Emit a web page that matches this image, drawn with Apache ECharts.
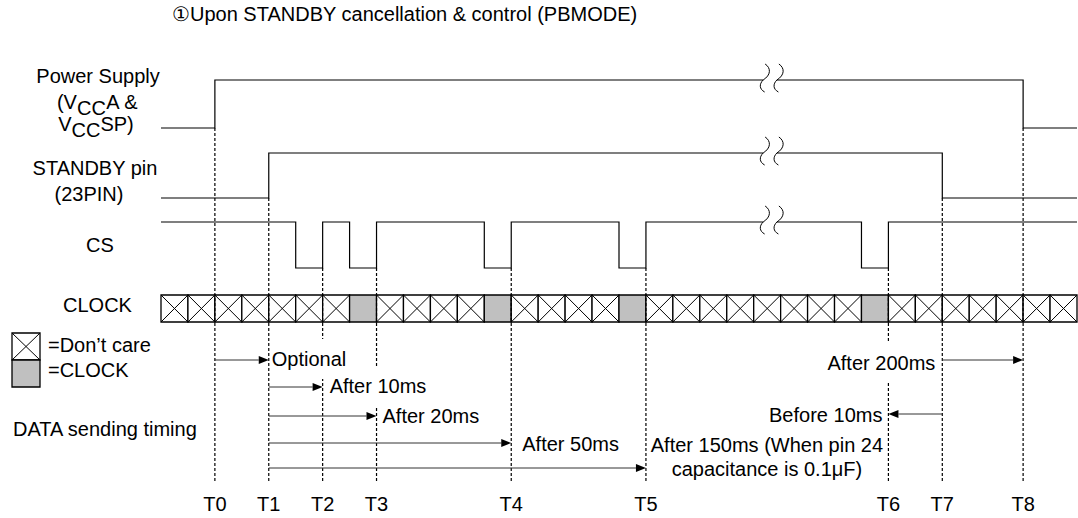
<!DOCTYPE html>
<html>
<head>
<meta charset="utf-8">
<title>STANDBY cancellation timing</title>
<script src="https://cdn.jsdelivr.net/npm/echarts@6/dist/echarts.min.js"></script>
<style>
html, body { margin: 0; padding: 0; background: #fff; }
#chart { width: 1078px; height: 518px; }
</style>
</head>
<body>
<div id="chart"></div>
<script>
// x unit = one CLOCK slot
const slotCount = 34;
const tickLabels = ['T0', 'T1', 'T2', 'T3', 'T4', 'T5', 'T6', 'T7', 'T8'];
const tickSlots = [2, 4, 6, 8, 13, 18, 27, 29, 32];

// [slot, level]  level 1 = high
const powerLevels = [[0, 0], [2, 1], [32, 0], [34, 0]];
const standbyLevels = [[0, 0], [4, 1], [29, 0], [34, 0]];
const csLevels = [[0, 1], [5, 0], [6, 1], [7, 0], [8, 1], [12, 0], [13, 1], [17, 0], [18, 1], [26, 0], [27, 1], [34, 1]];
const clockSlots = [7, 12, 17, 26];   // real CLOCK, the rest is don't care
const breakSlots = [22.35, 22.86];    // time axis break (≀≀)

// DATA sending timing, indexes into tickSlots
const arrowFrom = [0, 1, 1, 1, 1, 7, 7];
const arrowTo = [1, 2, 3, 4, 5, 8, 6];
const arrowTexts = [
  'Optional',
  'After 10ms',
  'After 20ms',
  'After 50ms',
  'After 150ms (When pin 24\ncapacitance is 0.1\u03bcF)',
  'After 200ms',
  'Before 10ms'
];

// ---- layout (pixels) ----
const FONT = '"Liberation Sans", Arial, sans-serif';
const FS = 20;
const rows = {
  power: {hi: 80, lo: 128},
  standby: {hi: 153, lo: 198},
  cs: {hi: 222, lo: 268},
  clock: {top: 295, bottom: 322}
};
const dashTop = [128, 198, 268, 268, 268, 268, 268, 198, 128];
const dashBottom = 483;
const tickLabelY = 504;
const arrowY = [360, 387, 416, 443, 468, 360, 414];
// [anchor tick, dx, y, align]
const arrowTextPos = [
  [1, 3, 359, 'left'],
  [2, 7, 386, 'left'],
  [3, 6, 416, 'left'],
  [4, 11, 444, 'left'],
  [5, 121, 457, 'center'],
  [7, -7, 363, 'right'],
  [6, -6, 415, 'right']
];

const signals = [
  {levels: powerLevels, row: rows.power},
  {levels: standbyLevels, row: rows.standby},
  {levels: csLevels, row: rows.cs}
];

function stepPoints(levels, row) {
  let pts = [];
  levels.forEach(function (d, i) {
    let y = d[1] ? row.hi : row.lo;
    if (i > 0) pts.push([d[0], pts[pts.length - 1][1]]);
    pts.push([d[0], y]);
  });
  return pts;
}

function splitAtBreak(pts) {
  let a = [], b = [];
  for (let i = 0; i < pts.length; i++) {
    let p = pts[i];
    if (p[0] <= breakSlots[0]) {
      a.push(p);
    } else {
      if (!b.length) {
        a.push([breakSlots[0], pts[i - 1][1]]);
        b.push([breakSlots[1], pts[i - 1][1]]);
      }
      b.push(p);
    }
  }
  return [a, b];
}

function wave(cx, cy) {
  let st = {stroke: '#000', lineWidth: 1, fill: 'none'};
  return [
    {type: 'bezierCurve', shape: {x1: cx + 2, y1: cy - 16, cpx1: cx + 8, cpy1: cy - 12, cpx2: cx + 8, cpy2: cy - 5, x2: cx, y2: cy}, style: st},
    {type: 'bezierCurve', shape: {x1: cx, y1: cy, cpx1: cx - 4, cpy1: cy + 4, cpx2: cx - 4, cpy2: cy + 9, x2: cx + 1.5, y2: cy + 12}, style: st}
  ];
}

function txt(x, y, text, align, extra) {
  let style = {
    text: text, fill: '#000', fontSize: FS, fontFamily: FONT,
    align: align || 'center', verticalAlign: 'middle',
    textAlign: align || 'center', textVerticalAlign: 'middle'
  };
  if (extra) Object.assign(style, extra);
  return {type: 'text', x: x, y: y, style: style};
}

function subText(x, y, parts) {
  let n = {fontSize: FS, fontFamily: FONT, fill: '#000', verticalAlign: 'top'};
  let s = Object.assign({}, n, {padding: [6, 0, 0, 0]});
  return txt(x, y, parts, 'center', {rich: {n: n, s: s}});
}

let chart = echarts.init(document.getElementById('chart'), null, {renderer: 'svg'});

let option = {
  animation: false,
  grid: {left: 161, right: 1, top: 0, bottom: 0},
  xAxis: {type: 'value', min: 0, max: slotCount, show: false},
  yAxis: {type: 'value', min: 0, max: 518, inverse: true, show: false},
  graphic: {
    elements: [
      txt(172, 14, '\u2460Upon STANDBY cancellation & control (PBMODE)', 'left'),
      txt(98, 75.5, 'Power Supply'),
      subText(97.5, 105, '{n|(V}{s|CC}{n|A &}'),
      subText(96, 126.5, '{n|V}{s|CC}{n|SP)}'),
      txt(95, 168, 'STANDBY pin'),
      txt(89, 194, '(23PIN)'),
      txt(100, 245, 'CS'),
      txt(97.5, 305, 'CLOCK'),
      {type: 'rect', shape: {x: 12, y: 333, width: 28, height: 27}, style: {fill: '#fff', stroke: '#000', lineWidth: 1.3}},
      {type: 'line', shape: {x1: 12, y1: 333, x2: 40, y2: 360}, style: {stroke: '#000', lineWidth: 1}},
      {type: 'line', shape: {x1: 40, y1: 333, x2: 12, y2: 360}, style: {stroke: '#000', lineWidth: 1}},
      {type: 'rect', shape: {x: 12, y: 360, width: 28, height: 27}, style: {fill: '#c0c0c0', stroke: '#000', lineWidth: 1.3}},
      txt(48, 345, '=Don\u2019t care', 'left'),
      txt(48, 369.5, '=CLOCK', 'left'),
      txt(13, 429, 'DATA sending timing', 'left')
    ]
  },
  series: [
    {
      // CLOCK slots
      type: 'custom',
      data: Array.from({length: slotCount}, function (_, i) { return [i, clockSlots.indexOf(i) >= 0 ? 1 : 0]; }),
      renderItem: function (params, api) {
        let i = api.value(0);
        let p0 = api.coord([i, rows.clock.top]);
        let p1 = api.coord([i + 1, rows.clock.bottom]);
        let isClock = api.value(1) === 1;
        let children = [{
          type: 'rect',
          shape: {x: p0[0], y: p0[1], width: p1[0] - p0[0], height: p1[1] - p0[1]},
          style: {fill: isClock ? '#c0c0c0' : '#fff', stroke: '#000', lineWidth: 1.3}
        }];
        if (!isClock) {
          children.push({type: 'line', shape: {x1: p0[0], y1: p0[1], x2: p1[0], y2: p1[1]}, style: {stroke: '#000', lineWidth: 1}});
          children.push({type: 'line', shape: {x1: p1[0], y1: p0[1], x2: p0[0], y2: p1[1]}, style: {stroke: '#000', lineWidth: 1}});
        }
        return {type: 'group', children: children};
      }
    },
    {
      // signal waveforms
      type: 'custom',
      data: signals.map(function (_, i) { return [i]; }),
      renderItem: function (params, api) {
        let s = signals[params.dataIndex];
        let parts = splitAtBreak(stepPoints(s.levels, s.row));
        let children = parts.map(function (part) {
          return {
            type: 'polyline',
            shape: {points: part.map(function (p) { return api.coord(p); })},
            style: {stroke: '#000', lineWidth: 1.2, fill: 'none'}
          };
        });
        let l = api.coord([breakSlots[0], s.row.hi]);
        let r = api.coord([breakSlots[1], s.row.hi]);
        children = children.concat(wave(l[0], l[1]), wave(r[0], r[1]));
        return {type: 'group', children: children};
      }
    },
    {
      // T0..T8 dashed markers
      type: 'custom',
      data: tickSlots.map(function (s, i) { return [s, dashTop[i]]; }),
      renderItem: function (params, api) {
        let top = api.coord([api.value(0), api.value(1)]);
        let bot = api.coord([api.value(0), dashBottom]);
        let lab = api.coord([api.value(0), tickLabelY]);
        return {
          type: 'group',
          children: [
            {type: 'line', shape: {x1: top[0], y1: top[1], x2: bot[0], y2: bot[1]}, style: {stroke: '#000', lineWidth: 1.2, lineDash: [3, 2]}},
            txt(lab[0], lab[1], tickLabels[params.dataIndex])
          ]
        };
      }
    },
    {
      // DATA sending timing arrows
      type: 'custom',
      data: arrowFrom.map(function (f, i) { return [tickSlots[f], tickSlots[arrowTo[i]], arrowY[i]]; }),
      renderItem: function (params, api) {
        let i = params.dataIndex;
        let a = api.coord([api.value(0), api.value(2)]);
        let b = api.coord([api.value(1), api.value(2)]);
        let dir = b[0] > a[0] ? 1 : -1;
        let base = b[0] - dir * 10;
        let t = arrowTextPos[i];
        let anchor = api.coord([tickSlots[t[0]], t[2]]);
        return {
          type: 'group',
          children: [
            {type: 'line', shape: {x1: a[0], y1: a[1], x2: base, y2: b[1]}, style: {stroke: '#333', lineWidth: 1}},
            {type: 'polygon', shape: {points: [[b[0], b[1]], [base, b[1] - 4], [base, b[1] + 4]]}, style: {fill: '#000'}},
            txt(anchor[0] + t[1], anchor[1], arrowTexts[i], t[3], {backgroundColor: '#fff', padding: [8, 0], lineHeight: 24})
          ]
        };
      }
    }
  ]
};

chart.setOption(option);
</script>
</body>
</html>
